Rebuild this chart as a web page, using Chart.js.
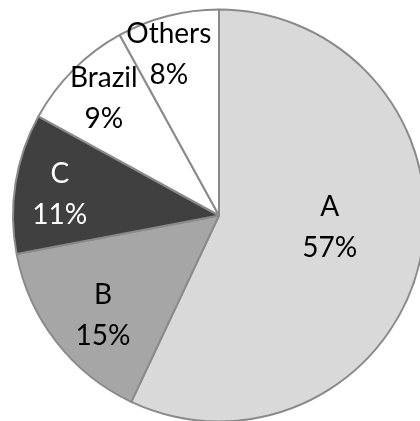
<!DOCTYPE html>
<html>
<head>
<meta charset="utf-8">
<script src="https://cdn.jsdelivr.net/npm/chart.js@4"></script>
<style>
  html, body { margin: 0; padding: 0; background: #ffffff; overflow: hidden; }
  #wrap { width: 420px; height: 421px; position: relative; }
</style>
</head>
<body>
<div id="wrap"><canvas id="pie"></canvas></div>
<script>
// slice names and shares (percent), clockwise from 12 o'clock
const labels = ["A", "B", "C", "Brazil", "Others"];
const shares = [57, 15, 11, 9, 8];

const sliceColors = ["#d9d9d9", "#a6a6a6", "#404040", "#ffffff", "#ffffff"];
const textColors = ["#000000", "#000000", "#ffffff", "#000000", "#000000"];

// where each label sits: r = fraction of radius, t = fraction across the slice angle
const labelSpots = [
  { r: 0.54, t: 0.467 },
  { r: 0.74, t: 0.45 },
  { r: 0.78, t: 0.47 },
  { r: 0.80, t: 0.52 },
  { r: 0.82, t: 0.40 },
];

// draws "name / percent" in two lines inside each slice
const sliceLabels = {
  id: "sliceLabels",
  afterDatasetsDraw(chart) {
    const ctx = chart.ctx;
    const meta = chart.getDatasetMeta(0);
    ctx.save();
    ctx.font = "28px Lato";
    ctx.textAlign = "center";
    ctx.textBaseline = "middle";
    meta.data.forEach((arc, i) => {
      const p = arc.getProps(["x", "y", "startAngle", "endAngle", "outerRadius"], true);
      const spot = labelSpots[i];
      const a = p.startAngle + (p.endAngle - p.startAngle) * spot.t;
      const r = p.outerRadius * spot.r;
      const cx = p.x + Math.cos(a) * r;
      const cy = p.y + Math.sin(a) * r;
      ctx.fillStyle = textColors[i];
      ctx.fillText(labels[i], cx, cy - 20);
      ctx.fillText(shares[i] + "%", cx, cy + 21);
    });
    ctx.restore();
  },
};

new Chart(document.getElementById("pie"), {
  type: "pie",
  plugins: [sliceLabels],
  data: {
    labels: labels,
    datasets: [{
      data: shares,
      backgroundColor: sliceColors,
      borderColor: "#8a8a8a",
      borderWidth: 2,
      borderAlign: "center",
    }],
  },
  options: {
    responsive: true,
    maintainAspectRatio: false,
    animation: false,
    radius: 206,
    layout: { padding: { left: 18, right: 0, top: 10, bottom: 0 } },
    plugins: {
      legend: { display: false },
      tooltip: { enabled: false },
    },
  },
});
</script>
</body>
</html>
